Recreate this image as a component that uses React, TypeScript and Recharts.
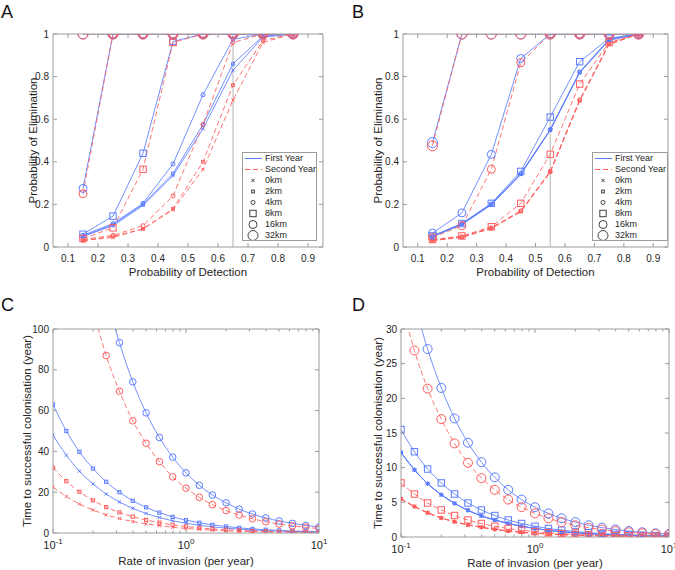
import React from 'react';
import { LineChart, Line, XAxis, YAxis, ReferenceLine, Legend } from 'recharts';

const FONT = '"Liberation Sans", Arial, Helvetica, sans-serif';
const BLUE = '#5b7cff';
const RED = '#ff5c5c';
const AXIS = '#9c9c9c';
const TEXT = '#262626';

// ---- panels A and B: probability of elimination vs probability of detection
const detection = [0.15, 0.25, 0.35, 0.45, 0.55, 0.65, 0.75, 0.85];
const detectionTicks = [0.1, 0.2, 0.3, 0.4, 0.5, 0.6, 0.7, 0.8, 0.9];
const eliminationTicks = [0, 0.2, 0.4, 0.6, 0.8, 1];

const aFirst0km = [0.05, 0.1, 0.195, 0.335, 0.555, 0.83, 0.985, 1];
const aFirst2km = [0.05, 0.105, 0.2, 0.345, 0.575, 0.86, 0.99, 1];
const aFirst4km = [0.055, 0.11, 0.205, 0.39, 0.715, 0.975, 1, 1];
const aFirst8km = [0.06, 0.145, 0.44, 0.965, 1, 1, 1, 1];
const aFirst16km = [0.275, 1, 1, 1, 1, 1, 1, 1];
const aFirst32km = [1, 1, 1, 1, 1, 1, 1, 1];
const aSecond0km = [0.03, 0.045, 0.085, 0.175, 0.365, 0.69, 0.96, 1];
const aSecond2km = [0.03, 0.05, 0.085, 0.18, 0.4, 0.76, 0.97, 1];
const aSecond4km = [0.035, 0.055, 0.1, 0.24, 0.575, 0.96, 1, 1];
const aSecond8km = [0.04, 0.09, 0.365, 0.96, 1, 1, 1, 1];
const aSecond16km = [0.25, 1, 1, 1, 1, 1, 1, 1];
const aSecond32km = [1, 1, 1, 1, 1, 1, 1, 1];

const bFirst0km = [0.048, 0.105, 0.198, 0.34, 0.548, 0.818, 0.97, 1];
const bFirst2km = [0.05, 0.108, 0.2, 0.342, 0.55, 0.82, 0.975, 1];
const bFirst4km = [0.05, 0.11, 0.202, 0.345, 0.552, 0.822, 0.975, 1];
const bFirst8km = [0.052, 0.11, 0.205, 0.355, 0.61, 0.87, 0.98, 1];
const bFirst16km = [0.065, 0.16, 0.435, 0.885, 1, 1, 1, 1];
const bFirst32km = [0.49, 1, 1, 1, 1, 1, 1, 1];
const bSecond0km = [0.03, 0.045, 0.087, 0.165, 0.35, 0.685, 0.95, 1];
const bSecond2km = [0.03, 0.047, 0.088, 0.168, 0.353, 0.69, 0.955, 1];
const bSecond4km = [0.032, 0.048, 0.09, 0.17, 0.355, 0.69, 0.955, 1];
const bSecond8km = [0.035, 0.052, 0.095, 0.205, 0.435, 0.765, 0.96, 1];
const bSecond16km = [0.045, 0.1, 0.365, 0.865, 1, 1, 1, 1];
const bSecond32km = [0.475, 1, 1, 1, 1, 1, 1, 1];

// ---- panels C and D: time to colonisation vs rate of invasion (log x)
const invasionRates = [0.1, 0.126, 0.158, 0.2, 0.251, 0.316, 0.398, 0.501, 0.631, 0.794, 1, 1.26, 1.58, 2, 2.51, 3.16, 3.98, 5.01, 6.31, 7.94, 10];
const rateTicks = [0.1, 0.2, 0.3, 0.4, 0.5, 0.6, 0.7, 0.8, 0.9, 1, 2, 3, 4, 5, 6, 7, 8, 9, 10];
const cTimeTicks = [0, 20, 40, 60, 80, 100];
const dTimeTicks = [0, 5, 10, 15, 20, 25, 30];

const cFirstCircle = [295, 234, 186, 148, 117, 93.3, 74.1, 58.9, 46.8, 37.2, 29.5, 23.4, 18.6, 14.8, 11.7, 9.3, 7.4, 5.9, 4.7, 3.7, 2.95];
const cFirstSquare = [63, 50, 39.8, 31.6, 25.1, 20, 15.8, 12.6, 10, 7.9, 6.3, 5, 4, 3.2, 2.5, 2, 1.6, 1.26, 1, 0.8, 0.63];
const cFirstCross = [48, 38.1, 30.3, 24.1, 19.1, 15.2, 12.1, 9.6, 7.6, 6, 4.8, 3.8, 3, 2.4, 1.9, 1.5, 1.2, 0.96, 0.76, 0.6, 0.48];
const cSecondCircle = [220, 175, 139, 110, 87, 69.5, 55, 44, 35, 27.5, 22, 17.5, 13.9, 11, 8.8, 7, 5.5, 4.4, 3.5, 2.8, 2.2];
const cSecondSquare = [32, 25.4, 20.2, 16, 12.7, 10.1, 8, 6.4, 5.1, 4, 3.2, 2.5, 2, 1.6, 1.3, 1, 0.8, 0.64, 0.5, 0.4, 0.32];
const cSecondCross = [22.5, 17.9, 14.2, 11.3, 8.9, 7.1, 5.6, 4.5, 3.6, 2.8, 2.25, 1.8, 1.4, 1.1, 0.9, 0.7, 0.56, 0.45, 0.36, 0.28, 0.22];

const dFirstCircle = [43, 34, 27.1, 21.5, 17.1, 13.6, 10.8, 8.6, 6.8, 5.4, 4.3, 3.4, 2.7, 2.15, 1.7, 1.35, 1.08, 0.86, 0.68, 0.54, 0.43];
const dFirstSquare = [15.5, 12.3, 9.8, 7.8, 6.2, 4.9, 3.9, 3.1, 2.45, 1.95, 1.55, 1.23, 0.98, 0.78, 0.62, 0.49, 0.39, 0.31, 0.25, 0.2, 0.155];
const dFirstNear = [12.2, 9.7, 7.7, 6.1, 4.85, 3.85, 3.05, 2.45, 1.95, 1.55, 1.22, 0.97, 0.77, 0.61, 0.49, 0.39, 0.31, 0.24, 0.19, 0.15, 0.12];
const dSecondCircle = [34, 26.9, 21.4, 17, 13.5, 10.7, 8.5, 6.8, 5.4, 4.3, 3.4, 2.7, 2.15, 1.7, 1.35, 1.07, 0.85, 0.68, 0.54, 0.43, 0.34];
const dSecondSquare = [7.8, 6.2, 4.9, 3.9, 3.1, 2.45, 1.95, 1.55, 1.23, 0.98, 0.78, 0.62, 0.49, 0.39, 0.31, 0.25, 0.2, 0.155, 0.12, 0.1, 0.078];
const dSecondNear = [5.5, 4.4, 3.5, 2.75, 2.2, 1.75, 1.4, 1.1, 0.87, 0.69, 0.55, 0.44, 0.35, 0.28, 0.22, 0.17, 0.14, 0.11, 0.09, 0.07, 0.055];

type Shape = 'x' | 'star' | 'square' | 'circle';

interface SeriesDef {
  key: string;
  values: number[];
  first: boolean;
  shape: Shape;
  size: number;
}

const distanceMarkers: { label: string; shape: Shape; size: number }[] = [
  { label: '0km', shape: 'x', size: 1.6 },
  { label: '2km', shape: 'square', size: 1.4 },
  { label: '4km', shape: 'circle', size: 2 },
  { label: '8km', shape: 'square', size: 3.2 },
  { label: '16km', shape: 'circle', size: 4 },
  { label: '32km', shape: 'circle', size: 5 },
];

function elimSeries(first: number[][], second: number[][]): SeriesDef[] {
  const out: SeriesDef[] = [];
  distanceMarkers.forEach((m, i) => {
    out.push({ key: 'f' + i, values: first[i], first: true, shape: m.shape, size: m.size });
    out.push({ key: 's' + i, values: second[i], first: false, shape: m.shape, size: m.size });
  });
  return out;
}

const aSeries = elimSeries(
  [aFirst0km, aFirst2km, aFirst4km, aFirst8km, aFirst16km, aFirst32km],
  [aSecond0km, aSecond2km, aSecond4km, aSecond8km, aSecond16km, aSecond32km],
);
const bSeries = elimSeries(
  [bFirst0km, bFirst2km, bFirst4km, bFirst8km, bFirst16km, bFirst32km],
  [bSecond0km, bSecond2km, bSecond4km, bSecond8km, bSecond16km, bSecond32km],
);

const cSeries: SeriesDef[] = [
  { key: 'f0', values: cFirstCross, first: true, shape: 'x', size: 1.6 },
  { key: 's0', values: cSecondCross, first: false, shape: 'x', size: 1.6 },
  { key: 'f1', values: cFirstSquare, first: true, shape: 'square', size: 1.6 },
  { key: 's1', values: cSecondSquare, first: false, shape: 'square', size: 1.6 },
  { key: 'f2', values: cFirstCircle, first: true, shape: 'circle', size: 3.3 },
  { key: 's2', values: cSecondCircle, first: false, shape: 'circle', size: 3.3 },
];

const dSeries: SeriesDef[] = [
  { key: 'f0', values: dFirstNear, first: true, shape: 'star', size: 1.8 },
  { key: 'f0b', values: dFirstNear, first: true, shape: 'x', size: 1.6 },
  { key: 'f0c', values: dFirstNear, first: true, shape: 'circle', size: 1.6 },
  { key: 's0', values: dSecondNear, first: false, shape: 'star', size: 1.8 },
  { key: 's0b', values: dSecondNear, first: false, shape: 'x', size: 1.6 },
  { key: 's0c', values: dSecondNear, first: false, shape: 'circle', size: 1.6 },
  { key: 'f1', values: dFirstSquare, first: true, shape: 'square', size: 3.2 },
  { key: 's1', values: dSecondSquare, first: false, shape: 'square', size: 3.2 },
  { key: 'f2', values: dFirstCircle, first: true, shape: 'circle', size: 4.5 },
  { key: 's2', values: dSecondCircle, first: false, shape: 'circle', size: 4.5 },
];

function buildRows(xs: number[], series: SeriesDef[]) {
  return xs.map((x, i) => {
    const row: Record<string, number> = { x };
    series.forEach((s) => {
      row[s.key] = s.values[i];
    });
    return row;
  });
}

function drawMarker(shape: Shape, size: number, color: string, cx: number, cy: number, key: string) {
  if (cx == null || cy == null || isNaN(cx) || isNaN(cy)) return <g key={key} />;
  const s = size;
  if (shape === 'circle')
    return <circle key={key} cx={cx} cy={cy} r={s} fill="none" stroke={color} strokeWidth={1} />;
  if (shape === 'square')
    return <rect key={key} x={cx - s} y={cy - s} width={2 * s} height={2 * s} fill="none" stroke={color} strokeWidth={1} />;
  if (shape === 'x')
    return (
      <path key={key} d={`M${cx - s},${cy - s}L${cx + s},${cy + s}M${cx - s},${cy + s}L${cx + s},${cy - s}`} stroke={color} strokeWidth={1} fill="none" />
    );
  return (
    <path
      key={key}
      d={`M${cx - s},${cy - s}L${cx + s},${cy + s}M${cx - s},${cy + s}L${cx + s},${cy - s}M${cx},${cy - s - 0.4}L${cx},${cy + s + 0.4}M${cx - s - 0.4},${cy}L${cx + s + 0.4},${cy}`}
      stroke={color}
      strokeWidth={1}
      fill="none"
    />
  );
}

const fmtDetection = (v: number) => v.toFixed(1);
const fmtElim = (v: number) => (v === 0 ? '0' : v === 1 ? '1' : v.toFixed(1));
const fmtPlain = (v: number) => String(v);

function BottomTick(props: any) {
  const { x, y, payload, fmt, log } = props;
  const v = payload.value as number;
  if (log) {
    const exp = Math.round(Math.log10(v));
    const major = Math.abs(Math.log10(v) - exp) < 1e-6;
    return (
      <g>
        <line x1={x} x2={x} y1={y} y2={y - (major ? 4 : 2.5)} stroke={AXIS} />
        {major && (
          <text x={x} y={y + 16} textAnchor="middle" fontSize={11} fill={TEXT} fontFamily={FONT}>
            10
            <tspan dy={-5} fontSize={8}>
              {String(exp)}
            </tspan>
          </text>
        )}
      </g>
    );
  }
  return (
    <g>
      <line x1={x} x2={x} y1={y} y2={y - 4} stroke={AXIS} />
      <text x={x} y={y + 15} textAnchor="middle" fontSize={10} fill={TEXT} fontFamily={FONT}>
        {fmt(v)}
      </text>
    </g>
  );
}

function TopTick(props: any) {
  const { x, y, payload, log } = props;
  const v = payload.value as number;
  let len = 4;
  if (log) {
    const exp = Math.round(Math.log10(v));
    len = Math.abs(Math.log10(v) - exp) < 1e-6 ? 4 : 2.5;
  }
  return <line x1={x} x2={x} y1={y} y2={y + len} stroke={AXIS} />;
}

function LeftTick(props: any) {
  const { x, y, payload, fmt } = props;
  return (
    <g>
      <line x1={x} x2={x + 4} y1={y} y2={y} stroke={AXIS} />
      <text x={x - 4} y={y + 3.5} textAnchor="end" fontSize={10} fill={TEXT} fontFamily={FONT}>
        {fmt(payload.value)}
      </text>
    </g>
  );
}

function RightTick(props: any) {
  const { x, y } = props;
  return <line x1={x} x2={x - 4} y1={y} y2={y} stroke={AXIS} />;
}

const legendLines = [
  { label: 'First Year', color: BLUE, dash: undefined as string | undefined },
  { label: 'Second Year', color: RED, dash: '5 3' },
];

function ElimLegend() {
  const row = { display: 'flex', alignItems: 'center', height: 11, whiteSpace: 'nowrap' } as const;
  return (
    <div
      style={{
        border: `1px solid ${AXIS}`,
        background: '#fff',
        boxSizing: 'border-box',
        width: '100%',
        height: '100%',
        fontFamily: FONT,
        fontSize: 9,
        color: TEXT,
        lineHeight: '11px',
        overflow: 'hidden',
      }}
    >
      {legendLines.map((l) => (
        <div key={l.label} style={row}>
          <svg width={22} height={11} style={{ flex: 'none' }}>
            <line x1={2} x2={19} y1={5.5} y2={5.5} stroke={l.color} strokeDasharray={l.dash} />
          </svg>
          <span>{l.label}</span>
        </div>
      ))}
      {distanceMarkers.map((m) => (
        <div key={m.label} style={row}>
          <svg width={22} height={11} style={{ flex: 'none' }}>
            {drawMarker(m.shape, m.size, '#404040', 10, 5.5, m.label)}
          </svg>
          <span>{m.label}</span>
        </div>
      ))}
    </div>
  );
}

interface PanelProps {
  left: number;
  top: number;
  margin: { top: number; right: number; bottom: number; left: number };
  xs: number[];
  series: SeriesDef[];
  log: boolean;
  xDomain: [number, number];
  xTicks: number[];
  yDomain: [number, number];
  yTicks: number[];
  xFmt: (v: number) => string;
  yFmt: (v: number) => string;
  xLabel: string;
  yLabel: string;
  xLabelOffset: number;
  yLabelOffset: number;
  xAxisHeight: number;
  refX?: number;
  legendPos?: { left: number; top: number; width: number; height: number };
  curve: 'linear' | 'monotone';
}

function Panel(p: PanelProps) {
  const rows = buildRows(p.xs, p.series);
  const scale = p.log ? 'log' : 'linear';
  const labelStyle = { fontFamily: FONT, fontSize: 11.5, fill: TEXT };
  return (
    <div style={{ position: 'absolute', left: p.left, top: p.top }}>
      <LineChart width={340} height={285} data={rows} margin={p.margin}>
        <XAxis
          dataKey="x"
          type="number"
          scale={scale}
          domain={p.xDomain}
          ticks={p.xTicks}
          interval={0}
          allowDataOverflow
          height={p.xAxisHeight}
          tickSize={0}
          tickMargin={0}
          tickLine={false}
          axisLine={{ stroke: AXIS }}
          tick={(t: any) => <BottomTick {...t} fmt={p.xFmt} log={p.log} />}
          label={{ value: p.xLabel, position: 'insideBottom', offset: p.xLabelOffset, style: labelStyle }}
        />
        <XAxis
          xAxisId="top"
          orientation="top"
          dataKey="x"
          type="number"
          scale={scale}
          domain={p.xDomain}
          ticks={p.xTicks}
          interval={0}
          allowDataOverflow
          height={5}
          tickSize={0}
          tickMargin={0}
          tickLine={false}
          axisLine={{ stroke: AXIS }}
          tick={(t: any) => <TopTick {...t} log={p.log} />}
        />
        <YAxis
          type="number"
          domain={p.yDomain}
          ticks={p.yTicks}
          interval={0}
          allowDataOverflow
          width={40}
          tickSize={0}
          tickMargin={0}
          tickLine={false}
          axisLine={{ stroke: AXIS }}
          tick={(t: any) => <LeftTick {...t} fmt={p.yFmt} />}
          label={{
            value: p.yLabel,
            angle: -90,
            position: 'insideLeft',
            offset: p.yLabelOffset,
            style: { ...labelStyle, textAnchor: 'middle' },
          }}
        />
        <YAxis
          yAxisId="right"
          orientation="right"
          type="number"
          domain={p.yDomain}
          ticks={p.yTicks}
          interval={0}
          allowDataOverflow
          width={5}
          tickSize={0}
          tickMargin={0}
          tickLine={false}
          axisLine={{ stroke: AXIS }}
          tick={(t: any) => <RightTick {...t} />}
        />
        {p.refX != null && <ReferenceLine x={p.refX} stroke="#b4b4b4" strokeWidth={1} />}
        {p.series.map((s) => {
          const color = s.first ? BLUE : RED;
          return (
            <Line
              key={s.key}
              dataKey={s.key}
              type={p.curve}
              stroke={color}
              strokeOpacity={0.85}
              strokeWidth={1}
              strokeDasharray={s.first ? undefined : '5 3'}
              dot={(d: any) => drawMarker(s.shape, s.size, color, d.cx, d.cy, `${s.key}-${d.index}`)}
              activeDot={false}
              isAnimationActive={false}
            />
          );
        })}
        {p.legendPos && (
          <Legend
            layout="vertical"
            align="center"
            verticalAlign="middle"
            content={() => <ElimLegend />}
            wrapperStyle={{ position: 'absolute', ...p.legendPos }}
          />
        )}
      </LineChart>
    </div>
  );
}

const letterStyle = {
  position: 'absolute',
  fontFamily: FONT,
  fontSize: 18,
  lineHeight: '18px',
  color: '#111',
} as const;

export default function App() {
  return (
    <div style={{ position: 'absolute', left: 0, top: 0, width: 675, height: 570, background: '#fff' }}>
      <Panel
        left={0}
        top={0}
        margin={{ top: 29, right: 12, bottom: 8, left: 13 }}
        xs={detection}
        series={aSeries}
        log={false}
        xDomain={[0.05, 0.95]}
        xTicks={detectionTicks}
        yDomain={[0, 1]}
        yTicks={eliminationTicks}
        xFmt={fmtDetection}
        yFmt={fmtElim}
        xLabel="Probability of Detection"
        yLabel="Probability of Elimination"
        xLabelOffset={1}
        yLabelOffset={20}
        xAxisHeight={30}
        refX={0.65}
        legendPos={{ left: 242, top: 152, width: 75, height: 89 }}
        curve="linear"
      />
      <Panel
        left={335}
        top={0}
        margin={{ top: 29, right: 2, bottom: 8, left: 28 }}
        xs={detection}
        series={bSeries}
        log={false}
        xDomain={[0.05, 0.95]}
        xTicks={detectionTicks}
        yDomain={[0, 1]}
        yTicks={eliminationTicks}
        xFmt={fmtDetection}
        yFmt={fmtElim}
        xLabel="Probability of Detection"
        yLabel="Probability of Elimination"
        xLabelOffset={1}
        yLabelOffset={15}
        xAxisHeight={30}
        refX={0.55}
        legendPos={{ left: 257, top: 152, width: 76, height: 89 }}
        curve="linear"
      />
      <Panel
        left={0}
        top={285}
        margin={{ top: 39, right: 16, bottom: 3, left: 13 }}
        xs={invasionRates}
        series={cSeries}
        log={true}
        xDomain={[0.1, 10]}
        xTicks={rateTicks}
        yDomain={[0, 100]}
        yTicks={cTimeTicks}
        xFmt={fmtPlain}
        yFmt={fmtPlain}
        xLabel="Rate of invasion (per year)"
        yLabel="Time to successful colonisation (year)"
        xLabelOffset={2}
        yLabelOffset={14}
        xAxisHeight={34}
        curve="monotone"
      />
      <Panel
        left={335}
        top={285}
        margin={{ top: 39, right: 1, bottom: 3, left: 26 }}
        xs={invasionRates}
        series={dSeries}
        log={true}
        xDomain={[0.1, 10]}
        xTicks={rateTicks}
        yDomain={[0, 30]}
        yTicks={dTimeTicks}
        xFmt={fmtPlain}
        yFmt={fmtPlain}
        xLabel="Rate of invasion (per year)"
        yLabel="Time to successful colonisation (year)"
        xLabelOffset={0}
        yLabelOffset={17}
        xAxisHeight={30}
        curve="monotone"
      />
      <div style={{ ...letterStyle, left: 1, top: 3 }}>A</div>
      <div style={{ ...letterStyle, left: 352, top: 3 }}>B</div>
      <div style={{ ...letterStyle, left: 1, top: 296 }}>C</div>
      <div style={{ ...letterStyle, left: 352, top: 296 }}>D</div>
    </div>
  );
}
